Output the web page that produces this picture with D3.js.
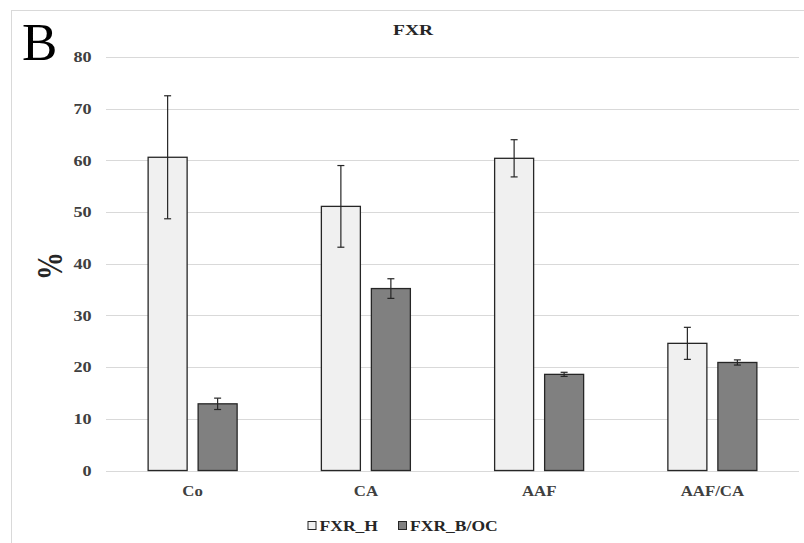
<!DOCTYPE html>
<html>
<head>
    <meta charset='utf-8'>
    <title>FXR</title>
    <style type="text/css">
        body { margin: 0; background: #fff; }
        svg { font-family: "Liberation Serif", "DejaVu Serif", serif; }
        .grid line { stroke: #d9d9d9; stroke-width: 1.2; }
        .axis text { font-weight: bold; fill: #404040; }
    </style>
</head>
<body>
    <script src="https://cdn.jsdelivr.net/npm/d3@7/dist/d3.min.js"></script>

    <div id="svgContainer"></div>

    <script type="text/javascript">

        const width = 804;
        const height = 543;

        // data
        const categories = ["Co", "CA", "AAF", "AAF/CA"];
        const seriesNames = ["FXR_H", "FXR_B/OC"];
        const valuesH = [60.6, 51.1, 60.4, 24.6];
        const errorsH = [11.9, 7.9, 3.6, 3.1];
        const valuesB = [12.9, 35.2, 18.6, 20.9];
        const errorsB = [1.1, 1.9, 0.4, 0.5];
        const yTicks = [0, 10, 20, 30, 40, 50, 60, 70, 80];
        const colors = ["#f0f0f0", "#808080"];

        const margin = {top: 57, right: 5, bottom: 72.5, left: 106};
        const sx = 1.25; // the source picture is stretched sideways

        const svg = d3.select("#svgContainer").append("svg")
            .attr("width", width)
            .attr("height", height);

        // outer frame
        svg.append("rect")
            .attr("x", 11.5).attr("y", 10.5)
            .attr("width", width + 20).attr("height", height + 20)
            .attr("fill", "none")
            .attr("stroke", "#d9d9d9");

        const x = d3.scaleBand()
            .domain(categories)
            .range([margin.left, width - margin.right]);

        const xInner = d3.scaleBand()
            .domain(seriesNames)
            .range([x.bandwidth() / 2 - 44.5, x.bandwidth() / 2 + 44.5])
            .paddingInner(0.22);

        const y = d3.scaleLinear()
            .domain([0, 80])
            .range([height - margin.bottom, margin.top]);

        // gridlines
        svg.append("g")
            .attr("class", "grid")
            .selectAll("line")
            .data(yTicks)
            .join("line")
            .attr("x1", margin.left)
            .attr("x2", width - margin.right)
            .attr("y1", d => Math.round(y(d)) + 0.5)
            .attr("y2", d => Math.round(y(d)) + 0.5);

        // y axis labels
        const yAxis = svg.append("g")
            .attr("class", "axis")
            .attr("transform", `translate(${margin.left},0)`)
            .call(d3.axisLeft(y).tickValues(yTicks).tickSize(0));
        yAxis.select(".domain").remove();
        yAxis.selectAll("text")
            .attr("font-size", 14.5)
            .attr("font-family", "Liberation Serif")
            .attr("x", -14.5 / sx)
            .attr("transform", `scale(${sx},1)`);

        // x axis labels
        const xAxis = svg.append("g")
            .attr("class", "axis")
            .attr("transform", `translate(0,${height - margin.bottom})`)
            .call(d3.axisBottom(x).tickSize(0));
        xAxis.select(".domain").remove();
        xAxis.selectAll("text")
            .attr("font-size", 14)
            .attr("font-family", "Liberation Serif")
            .attr("fill", "#595959")
            .attr("dy", null)
            .attr("y", 26)
            .attr("transform", `scale(${sx * 0.96},1)`);

        const rows = categories.map((c, i) => ({
            cat: c,
            bars: [
                {name: seriesNames[0], v: valuesH[i], e: errorsH[i]},
                {name: seriesNames[1], v: valuesB[i], e: errorsB[i]}
            ]
        }));

        const groups = svg.append("g")
            .selectAll("g")
            .data(rows)
            .join("g")
            .attr("transform", d => `translate(${x(d.cat)},0)`);

        const bar = groups.selectAll("g")
            .data(d => d.bars)
            .join("g");

        bar.append("rect")
            .attr("x", d => xInner(d.name))
            .attr("y", d => y(d.v))
            .attr("width", xInner.bandwidth())
            .attr("height", d => y(0) - y(d.v))
            .attr("fill", (d, i) => colors[i])
            .attr("stroke", "#262626")
            .attr("stroke-width", 1.3);

        // error bars
        const cx = d => xInner(d.name) + xInner.bandwidth() / 2;
        bar.append("line")
            .attr("x1", cx).attr("x2", cx)
            .attr("y1", d => y(d.v + d.e))
            .attr("y2", d => y(d.v - d.e))
            .attr("stroke", "#262626").attr("stroke-width", 1.2);
        bar.append("line")
            .attr("x1", d => cx(d) - 3.5).attr("x2", d => cx(d) + 3.5)
            .attr("y1", d => y(d.v + d.e)).attr("y2", d => y(d.v + d.e))
            .attr("stroke", "#262626").attr("stroke-width", 1.2);
        bar.append("line")
            .attr("x1", d => cx(d) - 3.5).attr("x2", d => cx(d) + 3.5)
            .attr("y1", d => y(d.v - d.e)).attr("y2", d => y(d.v - d.e))
            .attr("stroke", "#262626").attr("stroke-width", 1.2);

        // title
        svg.append("text")
            .attr("transform", `translate(413,35) scale(1.3,1)`)
            .attr("text-anchor", "middle")
            .attr("font-size", 15).attr("font-weight", "bold")
            .attr("fill", "#262626")
            .text("FXR");

        // panel letter
        svg.append("text")
            .attr("x", 22).attr("y", 60)
            .attr("font-size", 53)
            .attr("fill", "#000")
            .text("B");

        // y title
        svg.append("text")
            .attr("transform", `translate(49.5,266) scale(1.3,1) rotate(-90)`)
            .attr("text-anchor", "middle")
            .attr("dy", "0.33em")
            .attr("font-size", 28).attr("font-weight", "bold")
            .attr("fill", "#262626")
            .text("%");

        // legend
        const legend = svg.append("g")
            .selectAll("g")
            .data(seriesNames)
            .join("g")
            .attr("transform", (d, i) => `translate(${[308, 398.5][i]},521.5)`);
        legend.append("rect")
            .attr("width", 8).attr("height", 8)
            .attr("fill", (d, i) => colors[i])
            .attr("stroke", "#262626");
        legend.append("text")
            .attr("transform", `translate(11.5,9) scale(1.17,1)`)
            .attr("font-size", 15).attr("font-weight", "bold")
            .attr("fill", "#262626")
            .text(d => d);

    </script>
</body>
</html>
